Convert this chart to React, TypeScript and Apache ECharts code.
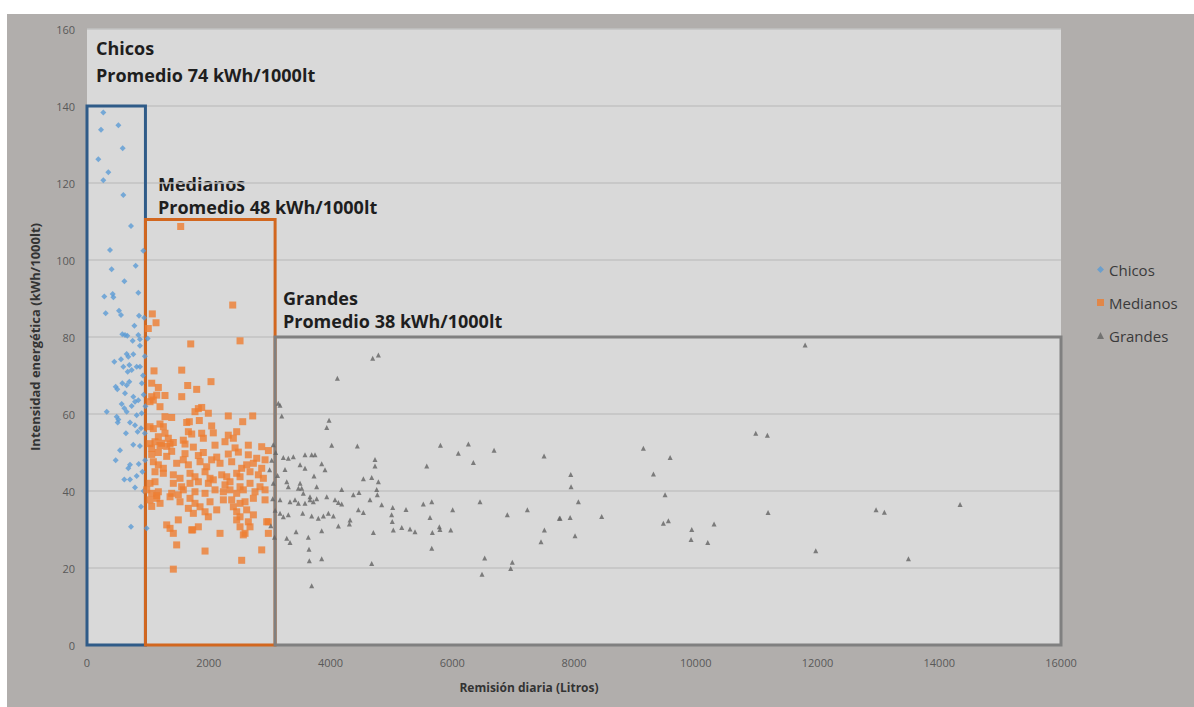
import React, { useEffect, useRef } from "react";
import * as echarts from "echarts";

const xTicks = { min: 0, max: 16000, interval: 2000 };
const yTicks = { min: 0, max: 160, interval: 20 };

const chicos: number[][] = [
  [268,138.3],[515,135],[230,133.8],[586,129],[186,126.2],[350,122.8],[268,120.7],[597,116.9],[723,108.8],
  [378,102.6],[925,102.4],[405,97.6],[800,98.5],[614,94.5],[284,90.5],[422,91.2],[433,90.3],[843,91.5],
  [307,86.2],[526,86.8],[559,85.7],[854,85.5],[778,82.9],[580,80.7],[624,80.5],[662,80.3],[843,80.5],
  [870,79.4],[997,79.6],[750,79],[870,77.7],[449,73.6],[559,74.2],[652,75.6],[679,74.9],[761,75.5],
  [597,72.3],[695,72.7],[816,72.3],[871,72.3],[668,71],[734,71.4],[471,67.1],[498,66.4],[624,65.4],
  [652,67.5],[695,68.4],[761,64.5],[789,63.2],[843,63.6],[570,62.6],[613,61.5],[734,62.1],[324,60.6],
  [652,60.6],[816,59.7],[898,60.2],[515,58.6],[504,57.8],[706,57.8],[789,57.1],[832,55.4],[887,56.3],
  [870,51.7],[542,50.6],[471,48],[706,46.8],[679,45.9],[613,43],[706,43],[816,43.9],[789,40.9],
  [887,35.9],[723,30.7],[980,30.3],[488,59.3],[930,65],[920,70],[950,75],[940,85],[910,45],[950,55],
  [930,40],[760,52],[640,55],[580,68],[960,62],[900,68],[955,48],[850,47]
];

const medianos: number[][] = [
  [1539,108.7],[1073,86],[1134,83.7],[1007,82.2],[2394,88.3],[1704,78.2],[2514,79],
  [1101,71.2],[1556,71.4],[2037,68.4],[1063,68],[1172,66.9],[1654,67.4],[1802,66.4],
  [1063,64.5],[1145,64.9],[1281,64.8],[1090,63.6],[1035,63.2],[1556,64.5],[1199,61.9],
  [1829,61.4],[1884,61.7],[1774,60.6],[1993,60.2],[2321,59.5],[2722,59.5],[2558,58],
  [1281,59.3],[1391,59.1],[1638,57.8],[1681,58],[1845,58.3],[1199,57.4],[1254,56.7],[1090,56.2],[1035,56.7],
  [2048,56.9],[2075,55.1],[1665,55.4],[1720,54.8],[1281,55],[1172,54.1],[1336,53.7],
  [2321,54.5],[2459,55.4],[2404,53.7],[1884,55],[1911,53.7],[1582,53.2],[1610,52.2],[2103,51.9],[2650,51.9],[2870,51.5],
  [1117,52.8],[1199,51.8],[1035,52.3],[1063,51.1],[1364,52.2],
  [1227,52.4],[1309,51.6],[1418,52.6],[1747,51.4],[2267,52.8],[2432,51.2],[2980,50.5],
  [1063,49.5],[1172,50],[1309,49],[1391,50.3],[1610,49.7],[1829,49.2],[1911,50],[2131,48.8],[2321,49.6],[2486,50.1],[2650,49.4],[2788,48.5],
  [1090,47.6],[1172,46.8],[1254,45.9],[1473,47.2],[1582,48.1],[1665,46.8],[1857,47.6],[1966,46.3],[2048,48.1],
  [2185,47.2],[2377,47.6],[2541,45.9],[2623,46.8],[2733,47.2],[2870,45.9],[2925,48.1],
  [1117,45],[1254,44.6],[1418,44.2],[1528,43.3],[1692,44.6],[1774,43.7],[1939,45],[2021,43.3],[2213,44.2],
  [2295,43.7],[2459,44.6],[2514,43.7],[2678,45],[2815,44.2],[2897,43.3],
  [1035,42],[1117,42.4],[1418,42],[1555,41.1],[1692,42],[1829,42.4],[1993,42],[2075,42.9],[2267,41.6],
  [2349,42.4],[2514,41.1],[2678,42],[2842,41.1],
  [981,40.3],[1063,39.4],[1172,39.8],[1391,39.4],[1500,39],[1582,40.3],[1774,39.8],[1939,39.4],[2103,40.3],
  [2240,39.8],[2349,40.3],[2459,39.4],[2568,40.3],[2760,39.8],[2925,40.3],
  [1035,37.7],[1145,38.1],[1364,38.5],[1528,37.2],[1692,38.1],[1774,36.8],[1857,35.9],[2021,37.2],[2240,37.7],
  [2377,37.7],[2514,36.8],[2596,37.2],[2733,38.1],[2925,37.7],
  [1665,35.5],[1747,34.2],[1939,34.6],[1993,33.3],[2131,35.1],[2404,35.9],[2459,34.6],[2514,33.3],[2623,35.1],
  [2733,33.8],[2979,32],
  [1309,31.2],[1364,30.3],[1418,29],[1500,32.5],[1720,29.9],[1829,30.7],[2185,29],[2459,32.5],[2514,30.7],
  [2568,28.6],[2650,32],[2678,30.7],[2979,29],[1736,29.9],[2596,29],[2952,32],
  [1473,26],[1939,24.4],[2541,22],[2870,24.7],[1418,19.7],[1145,38.8],[1063,36],[1200,36.8]
];

const grandes: number[][] = [
  [11797,77.9],[10986,55],[11177,54.5],[9140,51.1],[9579,48.7],[9305,44.4],[7947,44.3],[7952,41.1],[8072,37.2],
  [9496,39],[7771,32.9],[7936,33.1],[8455,33.4],[8017,28.4],[9468,31.6],[9550,32.3],[9934,30],[9923,27.4],
  [10301,31.4],[10197,26.6],[11188,34.4],[11971,24.5],[12962,35.1],[13099,34.5],[13494,22.4],[14342,36.5],
  [4693,74.5],[4786,75.3],[4113,69.3],[3171,62.3],[3199,59.5],[3976,58.4],[3938,56.5],[4020,51.9],[4441,51.7],
  [5806,51.9],[6265,52.2],[6100,49.8],[6687,50.6],[7508,49.1],[6347,47.4],[5581,46.5],
  [3225,48.7],[3307,48.5],[3389,48.9],[3581,49.4],[3691,49.4],[3745,49.4],[4731,48.2],[4731,46.5],[3855,47.1],
  [3910,45.5],[3500,46.8],[3581,45.9],[3253,45.6],[3729,43.9],[4540,43.2],[4677,43.5],[4786,42.4],[3281,42.4],
  [3307,41.1],[3500,42],[3472,40.7],[3527,40.7],[3773,41.1],[4184,40.4],[4759,40.4],[4769,39],[3553,39.4],
  [3663,38.5],[3773,38],[3938,38.5],[4375,39],[4468,39.6],[3171,37.7],[3335,37.2],[3417,37.7],[3472,36.8],
  [3581,36.8],[3663,37.7],[3718,37.2],[4074,37.7],[4129,37],[4184,36.6],[4649,37.7],[4841,36.4],[5022,35.7],
  [5004,33.8],[5014,32.1],[5240,35.2],[5525,36.6],[5663,37.2],[6007,35.1],[6456,37.2],[6905,33.8],[7234,35.1],
  [7760,32.9],[3171,34.2],[3225,33.3],[3307,33.8],[3543,34.2],[3691,33.5],[3800,32.9],[3883,33.5],[3965,34.2],
  [4047,33.5],[4458,35.1],[4540,34.4],[4321,32.5],[4310,31.4],[4129,30.9],[4704,29.2],[5032,29.9],[5170,30.5],
  [5306,30.1],[5388,29.4],[5635,33.1],[5673,29.2],[5788,30.7],[5798,30],[5975,29.9],[5663,25.1],[3434,29.4],
  [3855,29.7],[3281,27.7],[3335,26.6],[3636,28],[3647,24.9],[3652,21.9],[3855,22.4],[4677,21.2],[3691,15.4],
  [6533,22.6],[6489,18.4],[6987,21.5],[6960,19.9],[7458,26.8],[7513,29.9],
  [3143,62.8],[3034,48],[3000,45.5],[3060,42],[3050,38],[3090,35],[3020,31],[3080,28],[3100,50],[3130,44],[3060,52]
];

// group boxes: [xStart, xEnd, yTop]
const boxChicos = [0, 960, 140];
const boxMedianos = [960, 3090, 110.5];
const boxGrandes = [3090, 16000, 80];

const seriesNames = ["Chicos", "Medianos", "Grandes"];
const boxTitles = [
  ["Chicos", "Promedio 74 kWh/1000lt"],
  ["Medianos", "Promedio 48 kWh/1000lt"],
  ["Grandes", "Promedio 38 kWh/1000lt"],
];

const FONT = "'Open Sans', 'Noto Sans', sans-serif";

function boxArea(b: number[], color: string) {
  return {
    silent: true,
    itemStyle: { color: "rgba(0,0,0,0)", borderColor: color, borderWidth: 3 },
    label: { show: false },
    data: [[{ coord: [b[0], 0] }, { coord: [b[1], b[2]] }]],
  };
}

export default function App() {
  const ref = useRef<HTMLDivElement>(null);
  useEffect(() => {
    if (!ref.current) return;
    const chart = echarts.init(ref.current, null, { renderer: "svg" });
    const titleText = (x: number, y: number, lines: string[], lh: number) => ({
      type: "text",
      x,
      y,
      style: {
        text: lines.join("\n"),
        fill: "#1e1e1e",
        font: `bold 18px ${FONT}`,
        lineHeight: lh,
        verticalAlign: "top",
      },
    });
    chart.setOption({
      animation: false,
      backgroundColor: "#b1aeac",
      graphic: [
        { type: "rect", shape: { x: 0, y: 0, width: 1194, height: 14 }, style: { fill: "#ffffff" }, silent: true },
        { type: "rect", shape: { x: 0, y: 0, width: 7, height: 707 }, style: { fill: "#ffffff" }, silent: true },
        titleText(96, 34.5, boxTitles[0], 27),
        titleText(158, 172.5, boxTitles[1], 23),
        titleText(283, 286.5, boxTitles[2], 23),
      ],
      grid: {
        left: 87,
        right: 133,
        top: 29,
        bottom: 62,
        show: true,
        backgroundColor: "#d9d9d9",
        borderWidth: 0,
      },
      legend: {
        orient: "vertical",
        left: 1092,
        top: 257,
        itemWidth: 7,
        itemHeight: 7,
        itemGap: 18,
        data: seriesNames,
        textStyle: { color: "#3a3a3a", fontSize: 15, fontFamily: FONT },
      },
      xAxis: {
        type: "value",
        min: xTicks.min,
        max: xTicks.max,
        interval: xTicks.interval,
        name: "Remisión diaria (Litros)",
        nameLocation: "middle",
        nameGap: 36,
        nameTextStyle: { color: "#333333", fontSize: 12, fontWeight: "bold", fontFamily: FONT, padding: [0, 90, 0, 0] },
        axisLine: { show: true, lineStyle: { color: "#bfbfbf" } },
        axisTick: { show: false },
        splitLine: { show: false },
        axisLabel: { color: "#595959", fontSize: 11, fontFamily: FONT, margin: 12, formatter: (v: number) => String(v) },
      },
      yAxis: {
        type: "value",
        min: yTicks.min,
        max: yTicks.max,
        interval: yTicks.interval,
        name: "Intensidad energética (kWh/1000lt)",
        nameLocation: "middle",
        nameGap: 46,
        nameTextStyle: { color: "#333333", fontSize: 13, fontWeight: "bold", fontFamily: FONT },
        axisLine: { show: false },
        axisTick: { show: false },
        splitLine: { show: true, lineStyle: { color: "#c2c2c2", width: 1.5 } },
        axisLabel: { color: "#595959", fontSize: 11, fontFamily: FONT, margin: 12, formatter: (v: number) => String(v) },
      },
      series: [
        {
          name: seriesNames[0],
          type: "scatter",
          symbol: "diamond",
          symbolSize: 6,
          itemStyle: { color: "#5b9bd5" },
          data: chicos,
          markArea: boxArea(boxChicos, "#2f5b88"),
        },
        {
          name: seriesNames[1],
          type: "scatter",
          symbol: "rect",
          symbolSize: 7,
          itemStyle: { color: "#ed7d31" },
          data: medianos,
          markArea: boxArea(boxMedianos, "#d2671f"),
        },
        {
          name: seriesNames[2],
          type: "scatter",
          symbol: "triangle",
          symbolSize: 5,
          itemStyle: { color: "#636363" },
          data: grandes,
          markArea: boxArea(boxGrandes, "#808080"),
        },
      ],
    });
    return () => chart.dispose();
  }, []);
  return (
    <div
      ref={ref}
      style={{ position: "absolute", left: 0, top: 0, width: 1194, height: 707 }}
    />
  );
}
